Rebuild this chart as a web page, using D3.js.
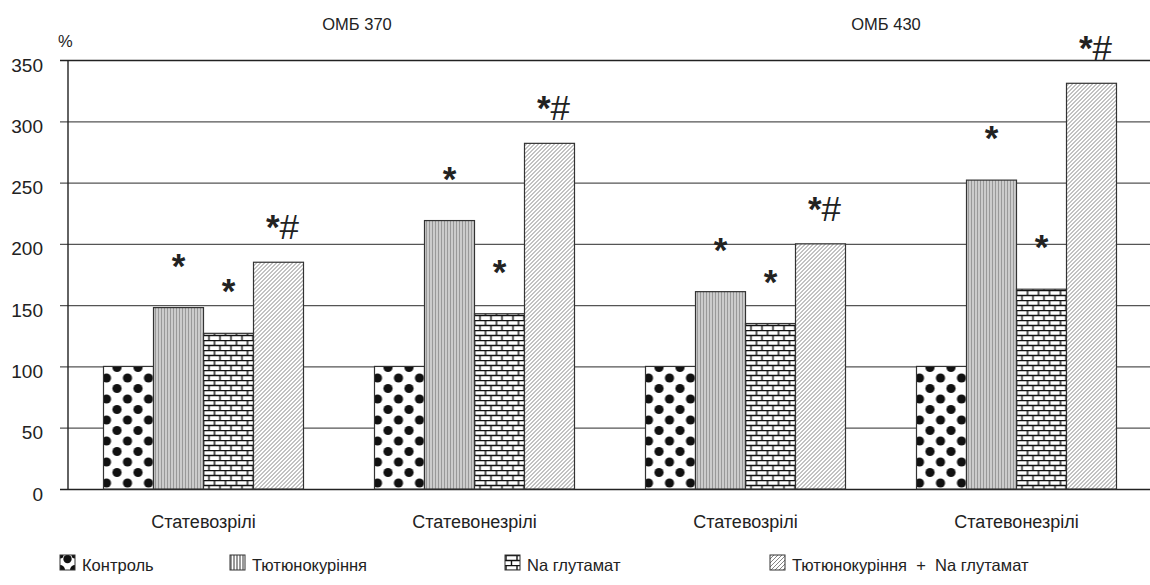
<!DOCTYPE html>
<html>
<head>
<meta charset="utf-8">
<script src="https://cdn.jsdelivr.net/npm/d3@7"></script>
<style>
  body { margin: 0; background: #fff; }
  text { font-family: "Liberation Sans", Arial, sans-serif; fill: #222; }
</style>
</head>
<body>
<svg id="chart" width="1150" height="585"></svg>
<script>
// data
var groups = ["g1", "g2", "g3", "g4"];
var groupLabels = ["Статевозрілі", "Статевонезрілі", "Статевозрілі", "Статевонезрілі"];
var series = ["Контроль", "Тютюнокуріння", "Na глутамат", "Тютюнокуріння  +  Na глутамат"];
var values = [
  [100, 148, 127, 185],
  [100, 219, 143, 282],
  [100, 161, 135, 200],
  [100, 252, 163, 331]
];
var marks = [
  ["", "*", "*", "*#"],
  ["", "*", "*", "*#"],
  ["", "*", "*", "*#"],
  ["", "*", "*", "*#"]
];
var topLabels = ["ОМБ 370", "ОМБ 430"];
var yTicks = [0, 50, 100, 150, 200, 250, 300, 350];

var svg = d3.select("#chart");
var margin = { top: 60, left: 68, bottom: 96 };
var height = 585 - margin.top - margin.bottom;

// patterns
var defs = svg.append("defs");
var pDots = defs.append("pattern").attr("id", "p0").attr("patternUnits", "userSpaceOnUse")
  .attr("width", 21).attr("height", 21).attr("x", 3).attr("y", 0);
pDots.append("rect").attr("width", 21).attr("height", 21).attr("fill", "#fff");
[[0, 0], [21, 0], [0, 21], [21, 21], [10.5, 10.5]].forEach(function (c) {
  pDots.append("circle").attr("cx", c[0]).attr("cy", c[1]).attr("r", 4.6).attr("fill", "#111");
});

// legend version of the dots
var pDotsL = defs.append("pattern").attr("id", "p0l").attr("patternUnits", "objectBoundingBox")
  .attr("width", 1).attr("height", 1);
pDotsL.append("rect").attr("width", 15).attr("height", 15).attr("fill", "#fff");
[[7.5, 4, 4.2], [0, 15, 5], [15, 15, 5], [0, 0, 3.5], [15, 0, 3.5]].forEach(function (c) {
  pDotsL.append("circle").attr("cx", c[0]).attr("cy", c[1]).attr("r", c[2]).attr("fill", "#111");
});

var pVert = defs.append("pattern").attr("id", "p1").attr("patternUnits", "userSpaceOnUse")
  .attr("width", 3).attr("height", 10);
pVert.append("rect").attr("width", 3).attr("height", 10).attr("fill", "#fff");
pVert.append("line").attr("x1", 1).attr("x2", 1).attr("y1", 0).attr("y2", 10)
  .attr("stroke", "#333").attr("stroke-width", 1);

var pBrick = defs.append("pattern").attr("id", "p2").attr("patternUnits", "userSpaceOnUse")
  .attr("width", 11).attr("height", 10);
pBrick.append("rect").attr("width", 11).attr("height", 10).attr("fill", "#fff");
pBrick.append("path")
  .attr("d", "M0,0.5H11M0,5.5H11M1,0.5V5.5M6.5,5.5V10.5")
  .attr("stroke", "#111").attr("stroke-width", 1.4).attr("fill", "none");

var pDiag = defs.append("pattern").attr("id", "p3").attr("patternUnits", "userSpaceOnUse")
  .attr("width", 4).attr("height", 4);
pDiag.append("rect").attr("width", 4).attr("height", 4).attr("fill", "#fff");
pDiag.append("path").attr("d", "M-1,5L5,-1M-1,1L1,-1M3,5L5,3")
  .attr("stroke", "#666").attr("stroke-width", 0.8);

// scales
var x0 = d3.scaleBand().domain(groups).range([68, 1152]).paddingInner(0.262).paddingOuter(0.131);
var x1 = d3.scaleBand().domain(d3.range(4)).range([0, x0.bandwidth()]);
var y = d3.scaleLinear().domain([0, 350]).range([margin.top + height, margin.top]);

// grid
var yAxis = d3.axisLeft(y).tickValues(yTicks).tickSize(-(1150 - 60)).tickPadding(17);
var gY = svg.append("g").attr("transform", "translate(60,0)").call(yAxis);
gY.select(".domain").remove();
gY.selectAll(".tick line").attr("stroke", "#555").attr("stroke-width", 1.2);
gY.selectAll(".tick text").style("font-size", "19px").attr("fill", "#222").attr("dy", "0.58em")
  .attr("font-family", "Liberation Sans, Arial, sans-serif");
gY.selectAll(".tick").filter(function (d) { return d === 350 || d === 0; })
  .select("line").attr("stroke", "#222").attr("stroke-width", 1.6);

svg.append("line").attr("x1", 68).attr("x2", 68).attr("y1", y(350)).attr("y2", y(0))
  .attr("stroke", "#222").attr("stroke-width", 1.4);

// bars
var g = svg.selectAll(".grp").data(values).enter().append("g")
  .attr("transform", function (d, i) { return "translate(" + x0(groups[i]) + ",0)"; });

g.selectAll("rect").data(function (d) { return d; }).enter().append("rect")
  .attr("x", function (d, j) { return x1(j); })
  .attr("y", function (d) { return y(d); })
  .attr("width", x1.bandwidth())
  .attr("height", function (d) { return y(0) - y(d); })
  .attr("fill", function (d, j) { return "url(#p" + j + ")"; })
  .attr("stroke", "#333").attr("stroke-width", 1.2);

g.each(function (d, i) {
  var t = d3.select(this).selectAll("text.mark").data(marks[i]).enter().append("text")
    .attr("class", "mark")
    .attr("x", function (m, j) { return x1(j) + x1.bandwidth() / 2 + (m.length > 1 ? 4 : 0); })
    .attr("y", function (m, j) { return y(values[i][j]) - (m.length > 1 ? 23 : 30); })
    .attr("text-anchor", "middle")
    .style("font-size", "35px")
    .attr("fill", "#111");
  t.append("tspan").style("font-weight", "bold").text(function (m) { return m.slice(0, 1); });
  t.append("tspan").text(function (m) { return m.slice(1); });
});

// x labels
svg.selectAll(".xl").data(groupLabels).enter().append("text")
  .attr("x", function (d, i) { return x0(groups[i]) + x0.bandwidth() / 2; })
  .attr("y", 528)
  .attr("text-anchor", "middle")
  .style("font-size", "18px")
  .text(function (d) { return d; });

// top labels
var topX = [357, 886];
svg.selectAll(".tl").data(topLabels).enter().append("text")
  .attr("x", function (d, i) { return topX[i]; })
  .attr("y", 30)
  .attr("text-anchor", "middle")
  .style("font-size", "16.5px")
  .text(function (d) { return d; });

svg.append("text").attr("x", 58).attr("y", 47).style("font-size", "16.5px").text("%");

// legend
var legX = [60, 230, 505, 770];
var leg = svg.selectAll(".leg").data(series).enter().append("g")
  .attr("transform", function (d, i) { return "translate(" + legX[i] + ",555)"; });
leg.append("rect").attr("width", 15).attr("height", 15)
  .attr("fill", function (d, i) { return i === 0 ? "url(#p0l)" : "url(#p" + i + ")"; })
  .attr("stroke", "#333").attr("stroke-width", 1);
leg.append("text").attr("x", 22).attr("y", 16).style("font-size", "16.5px")
  .attr("xml:space", "preserve").style("white-space", "pre")
  .text(function (d) { return d; });
</script>
</body>
</html>
